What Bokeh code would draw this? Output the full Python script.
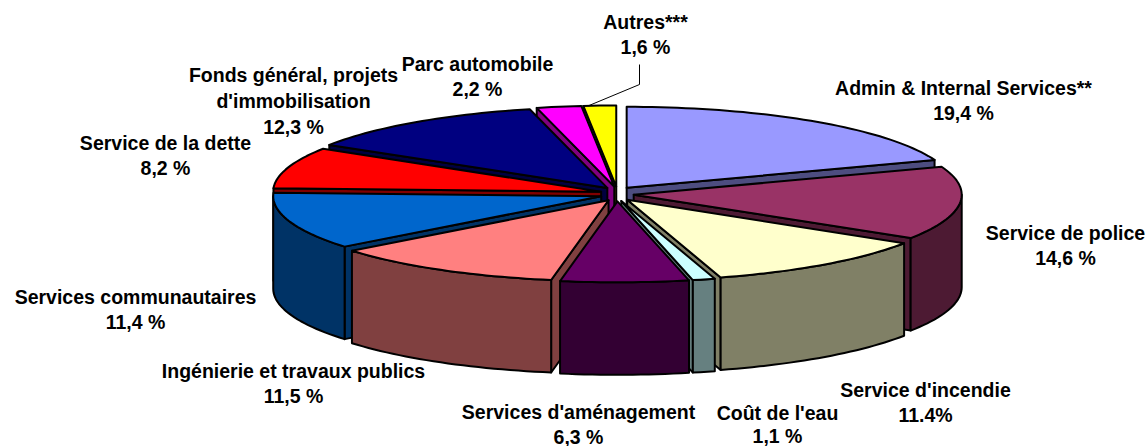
import math
from bokeh.plotting import figure
from bokeh.models import ColumnDataSource, Range1d
from bokeh.core.properties import value
from bokeh.embed import file_html
from bokeh.resources import INLINE

categories = ["Admin & Internal Services**", "Service de police", "Service d'incendie", "Coût de l'eau",
              "Services d'aménagement", "Ingénierie et travaux publics", "Services communautaires",
              "Service de la dette", "Fonds général, projets d'immobilisation", "Parc automobile", "Autres***"]
shares = [19.4, 14.6, 11.4, 1.1, 6.3, 11.5, 11.4, 8.2, 12.3, 2.2, 1.6]
top_colors = ["#9999FF", "#993366", "#FFFFCC", "#CCFFFF", "#660066", "#FF8080",
              "#0066CC", "#FF0000", "#000080", "#FF00FF", "#FFFF00"]
wall_colors = ["#4D4D80", "#4D1A33", "#808066", "#668080", "#330033", "#804040",
               "#003366", "#800000", "#000040", "#800080", "#808000"]
labels = [
    (["Admin & Internal Services**", "19,4 %"], 963, 87, 25),
    (["Service de police", "14,6 %"], 1065, 232, 25),
    (["Service d'incendie", "11.4%"], 925, 389, 25),
    (["Coût de l'eau", "1,1 %"], 777, 412, 23),
    (["Services d'aménagement", "6,3 %"], 578, 411, 25),
    (["Ingénierie et travaux publics", "11,5 %"], 293, 370, 25),
    (["Services communautaires", "11,4 %"], 135, 296, 25),
    (["Service de la dette", "8,2 %"], 165, 142, 25),
    (["Fonds général, projets", "d'immobilisation", "12,3 %"], 293, 74, 26),
    (["Parc automobile", "2,2 %"], 477, 63, 25),
    (["Autres***", "1,6 %"], 645, 21, 25),
]
leader_x = [639, 639]
leader_y = [64, 84]

CX, CY = 616.6, 193.4
RX, RY = 328.0, 81.0
EX, EY = 16.7, 7.4
DEPTH = 92.5

def pt(ax, ay, deg, rx=RX, ry=RY):
    r = math.radians(deg)
    return ax + rx * math.sin(r), ay - ry * math.cos(r)

slices = []
start = 0.0
total = sum(shares)
for i, v in enumerate(shares):
    a0 = start * 360 / total
    a1 = (start + v) * 360 / total
    start += v
    mid = (a0 + a1) / 2
    ax, ay = pt(CX, CY, mid, EX, EY)
    slices.append((i, a0, a1, mid, ax, ay))
slices.sort(key=lambda s: -math.cos(math.radians(s[3])))

xs, ys, fills = [], [], []

def add(poly, color):
    xs.append([q[0] for q in poly])
    ys.append([q[1] for q in poly])
    fills.append(color)

def arc(ax, ay, a0, a1, dy=0.0):
    n = max(2, int((a1 - a0) / 1.5) + 2)
    return [(pt(ax, ay, a0 + (a1 - a0) * k / (n - 1))[0], pt(ax, ay, a0 + (a1 - a0) * k / (n - 1))[1] + dy)
            for k in range(n)]

for i, a0, a1, mid, ax, ay in slices:
    if math.sin(math.radians(a0)) < 0:
        c = pt(ax, ay, a0)
        add([(ax, ay), c, (c[0], c[1] + DEPTH), (ax, ay + DEPTH)], wall_colors[i])
    if math.sin(math.radians(a1)) > 0:
        c = pt(ax, ay, a1)
        add([(ax, ay), c, (c[0], c[1] + DEPTH), (ax, ay + DEPTH)], wall_colors[i])
    w0, w1 = max(a0, 90.0), min(a1, 270.0)
    if w1 > w0:
        add(arc(ax, ay, w0, w1) + arc(ax, ay, w0, w1, DEPTH)[::-1], wall_colors[i])
    add([(ax, ay)] + arc(ax, ay, a0, a1), top_colors[i])

W, H = 1147, 446
p = figure(width=W, height=H, output_backend="svg", toolbar_location=None,
           x_range=Range1d(0, W), y_range=Range1d(H, 0), min_border=0)
p.axis.visible = False
p.grid.visible = False
p.outline_line_color = None
p.background_fill_color = "white"

p.patches("xs", "ys", fill_color="fills", line_color="black", line_width=2, line_join="round",
          source=ColumnDataSource(dict(xs=xs, ys=ys, fills=fills)))

yellow = next(s for s in slices if s[0] == len(shares) - 1)
end = pt(yellow[4], yellow[5], (yellow[1] + yellow[2]) / 2 - 2)
p.line(leader_x + [end[0]], leader_y + [end[1]], line_color="black", line_width=1)

tx, ty, tt = [], [], []
for lines, x, y, gap in labels:
    for k, line in enumerate(lines):
        tx.append(x)
        ty.append(y + gap * k)
        tt.append(line)
p.text(tx, ty, text=tt, text_font=value("Liberation Sans"), text_font_style="bold",
       text_font_size="19.5px", text_color="black", text_align="center", text_baseline="middle")

open("out.html", "w").write(file_html(p, INLINE))
